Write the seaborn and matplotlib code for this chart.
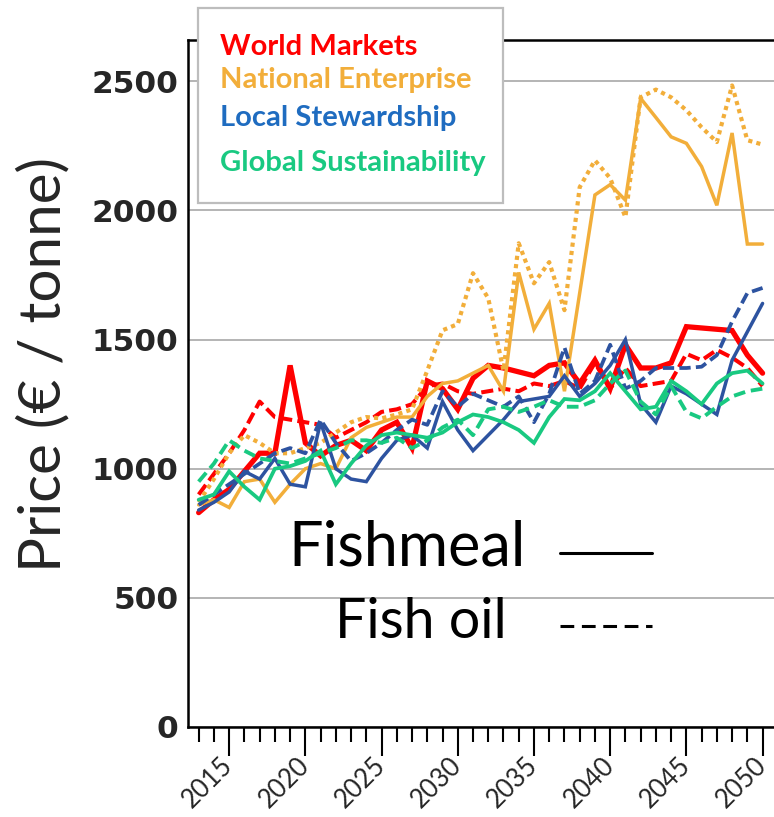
import matplotlib
matplotlib.use("Agg")
import matplotlib.pyplot as plt
import seaborn as sns
from matplotlib.lines import Line2D
from matplotlib.patches import Rectangle

# ---- data: fish prices by scenario (EUR / tonne) ----
years = list(range(2013, 2051))

wm_meal = [830, 880, 920, 990, 1060, 1060, 1400, 1100, 1050, 1090,
           1110, 1070, 1150, 1180, 1080, 1340, 1310, 1230, 1350, 1400,
           1390, 1375, 1360, 1400, 1410, 1330, 1420, 1310, 1480, 1390,
           1390, 1410, 1550, 1545, 1540, 1535, 1440, 1370]
wm_oil = [900, 980, 1060, 1150, 1260, 1200, 1190, 1180, 1170, 1120,
          1150, 1180, 1220, 1230, 1250, 1320, 1330, 1300, 1290, 1300,
          1310, 1300, 1330, 1320, 1340, 1310, 1410, 1310, 1390, 1320,
          1330, 1340, 1445, 1420, 1460, 1430, 1390, 1320]
ne_meal = [860, 880, 850, 950, 960, 870, 940, 1000, 1020, 1000,
           1120, 1160, 1180, 1200, 1200, 1280, 1330, 1340, 1370, 1400,
           1300, 1760, 1540, 1640, 1300, 1680, 2060, 2100, 2040, 2434,
           2360, 2285, 2260, 2170, 2020, 2300, 1870, 1870]
ne_oil = [870, 960, 1060, 1130, 1100, 1060, 1060, 1080, 1100, 1140,
          1180, 1200, 1195, 1210, 1230, 1380, 1536, 1560, 1757, 1660,
          1380, 1873, 1718, 1800, 1614, 2090, 2194, 2125, 1974, 2438,
          2468, 2438, 2388, 2322, 2265, 2484, 2272, 2255]
ls_meal = [840, 870, 910, 990, 960, 1040, 940, 930, 1180, 1000,
           960, 950, 1040, 1110, 1130, 1080, 1260, 1150, 1070, 1130,
           1190, 1260, 1270, 1280, 1360, 1280, 1330, 1400, 1500, 1250,
           1180, 1320, 1290, 1250, 1210, 1420, 1530, 1640]
ls_oil = [860, 900, 940, 980, 1020, 1060, 1080, 1060, 1190, 1100,
          1030, 1060, 1100, 1150, 1190, 1170, 1300, 1240, 1290, 1265,
          1240, 1280, 1180, 1290, 1470, 1290, 1340, 1480, 1310, 1340,
          1390, 1390, 1390, 1395, 1440, 1570, 1680, 1700]
gs_meal = [880, 900, 990, 930, 880, 1000, 1010, 1030, 1070, 940,
           1020, 1090, 1130, 1140, 1130, 1120, 1140, 1180, 1210, 1200,
           1180, 1150, 1100, 1200, 1270, 1265, 1300, 1370, 1300, 1230,
           1240, 1340, 1300, 1250, 1330, 1370, 1380, 1330]
gs_oil = [950, 1020, 1110, 1070, 1040, 1030, 1020, 1040, 1060, 1080,
          1110, 1110, 1100, 1120, 1080, 1110, 1160, 1190, 1130, 1230,
          1240, 1220, 1240, 1265, 1240, 1240, 1265, 1330, 1380, 1260,
          1210, 1320, 1220, 1195, 1240, 1280, 1300, 1310]

scenarios = ["World Markets", "National Enterprise",
             "Local Stewardship", "Global Sustainability"]
y_ticks = [0, 500, 1000, 1500, 2000, 2500]
x_major = [2015, 2020, 2025, 2030, 2035, 2040, 2045, 2050]

# ---- styling ----
RED = "#FF0000"
ORANGE = "#F2AE3A"
BLUE_LINE = "#2D53A0"
BLUE_TEXT = "#1F6CC0"
GREEN = "#19C981"

sns.set_theme(style="white")
plt.rcParams["font.family"] = ["Lato", "DejaVu Sans"]

W, H = 774, 817
fig = plt.figure(figsize=(W / 100, H / 100), dpi=100)
ax = fig.add_axes([188 / W, 90 / H, 1 - 188 / W, 687 / H])


def fx(px):
    return px / W


def fy(py):
    return 1 - py / H


series = [
    (wm_meal, RED, 3.8, "-"),
    (wm_oil, RED, 2.9, (0, (3, 1.3))),
    (ne_meal, ORANGE, 2.5, "-"),
    (ne_oil, ORANGE, 3.0, (0, (1, 1))),
    (ls_meal, BLUE_LINE, 2.5, "-"),
    (ls_oil, BLUE_LINE, 2.7, (0, (3, 1.4))),
    (gs_meal, GREEN, 2.7, "-"),
    (gs_oil, GREEN, 2.8, (0, (3, 1.5))),
]
for vals, col, lw, ls in series:
    sns.lineplot(x=years, y=vals, ax=ax, color=col, linewidth=lw,
                 linestyle=ls, solid_joinstyle="miter")

ax.set_xlim(2012.3, 2050.75)
ax.set_ylim(0, 2660)

# axes frame
for side in ("left", "bottom", "top"):
    ax.spines[side].set_color("black")
    ax.spines[side].set_linewidth(1.8)
ax.spines["right"].set_visible(False)

ax.set_yticks(y_ticks)
ax.yaxis.grid(True, color="#A8A8A8", linewidth=1.2)
ax.set_axisbelow(True)
ax.tick_params(axis="y", length=0, pad=7)
ax.set_yticklabels([str(v) for v in y_ticks], family="DejaVu Sans",
                   fontweight="bold", fontsize=22.5)

ax.set_xticks(x_major)
ax.set_xticks(years, minor=True)
ax.tick_params(axis="x", which="major", direction="out", length=21,
               width=1.5, color="black", pad=4, bottom=True)
ax.tick_params(axis="x", which="minor", direction="out", length=11,
               width=1.5, color="black", bottom=True)
ax.set_xticklabels([str(v) for v in x_major], rotation=45, ha="right",
                   va="center", rotation_mode="anchor", fontsize=18.5)
ax.set_xlabel("")
ax.set_ylabel("")

fig.text(fx(44), fy(365), "Price (€ / tonne)", rotation=90,
         ha="center", va="center", fontsize=42)

# scenario key box
box = Rectangle((fx(198), fy(203)), fx(503) - fx(198), fy(8) - fy(203),
                transform=fig.transFigure, facecolor="white",
                edgecolor="#BDBDBD", linewidth=1.6, zorder=5)
fig.add_artist(box)
key_rows = [(47, RED), (80, ORANGE), (118, BLUE_TEXT), (163, GREEN)]
for name, (ypx, col) in zip(scenarios, key_rows):
    fig.text(fx(220), fy(ypx), name, color=col, fontsize=21,
             fontweight="bold", ha="left", va="center", zorder=6)

# product line-style key
fig.text(fx(288), fy(548), "Fishmeal", fontsize=44, ha="left",
         va="center", color="black")
fig.text(fx(335), fy(622), "Fish oil", fontsize=40, ha="left",
         va="center", color="black")
fig.add_artist(Line2D([fx(560), fx(652)], [fy(553), fy(553)],
                      transform=fig.transFigure, color="black", lw=2.2))
fig.add_artist(Line2D([fx(560), fx(652)], [fy(626), fy(626)],
                      transform=fig.transFigure, color="black", lw=2.2,
                      linestyle=(0, (4.5, 2.5))))

fig.savefig("out.png", dpi=100)
